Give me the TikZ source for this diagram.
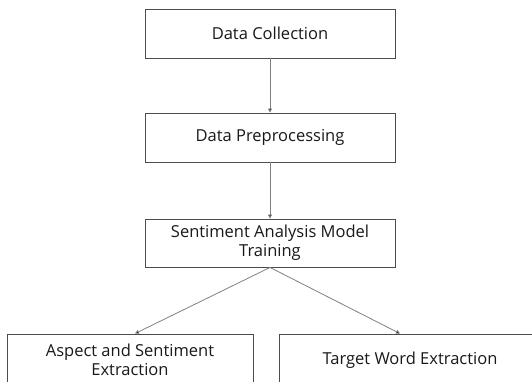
\documentclass[tikz,border=0pt]{standalone}
\usepackage{fontspec}
\setmainfont{Open Sans}
\usetikzlibrary{arrows.meta}
\definecolor{rand}{rgb}{0.3,0.3,0.3}
\definecolor{pfeil}{rgb}{0.5,0.5,0.5}

\tikzset{
  schritt/.style={draw=rand, line width=0.9pt, fill=white, minimum width=250pt,
    minimum height=49pt, align=center, inner sep=2pt, text=black!90,
    font=\fontsize{16.5}{19}\selectfont},
  pfeilstil/.style={draw=pfeil, line width=0.8pt, -{Triangle[length=4pt,width=4pt,fill=black]}}
}

\begin{document}
\begin{tikzpicture}[x=1pt,y=-1pt]
                  \useasboundingbox (0,0) rectangle (532,381);
                  \clip (0,0) rectangle (532,381);
                  % ablauf
                  \node[schritt] (sammeln) at (270,33.5) {Data Collection};
                  \node[schritt] (vorverarb) at (270,137.5) {Data Preprocessing};
                  \node[schritt, minimum height=48pt] (training) at (270,243) {Sentiment Analysis Model\\Training};
                  \node[schritt, minimum width=246pt, minimum height=52pt] (aspekt) at (130,360) {Aspect and Sentiment\\Extraction};
                  \node[schritt, minimum width=262pt, minimum height=52pt] (zielwort) at (410,360) {Target Word Extraction};
                  % pfeile
                  \draw[pfeilstil] (sammeln) -- (vorverarb);
                  \draw[pfeilstil] (vorverarb) -- (training);
                  \draw[pfeilstil] (training.south) -- (aspekt.north -| 135,0);
                  \draw[pfeilstil] (training.south) -- (zielwort.north -| 400,0);
            \end{tikzpicture}
\end{document}
